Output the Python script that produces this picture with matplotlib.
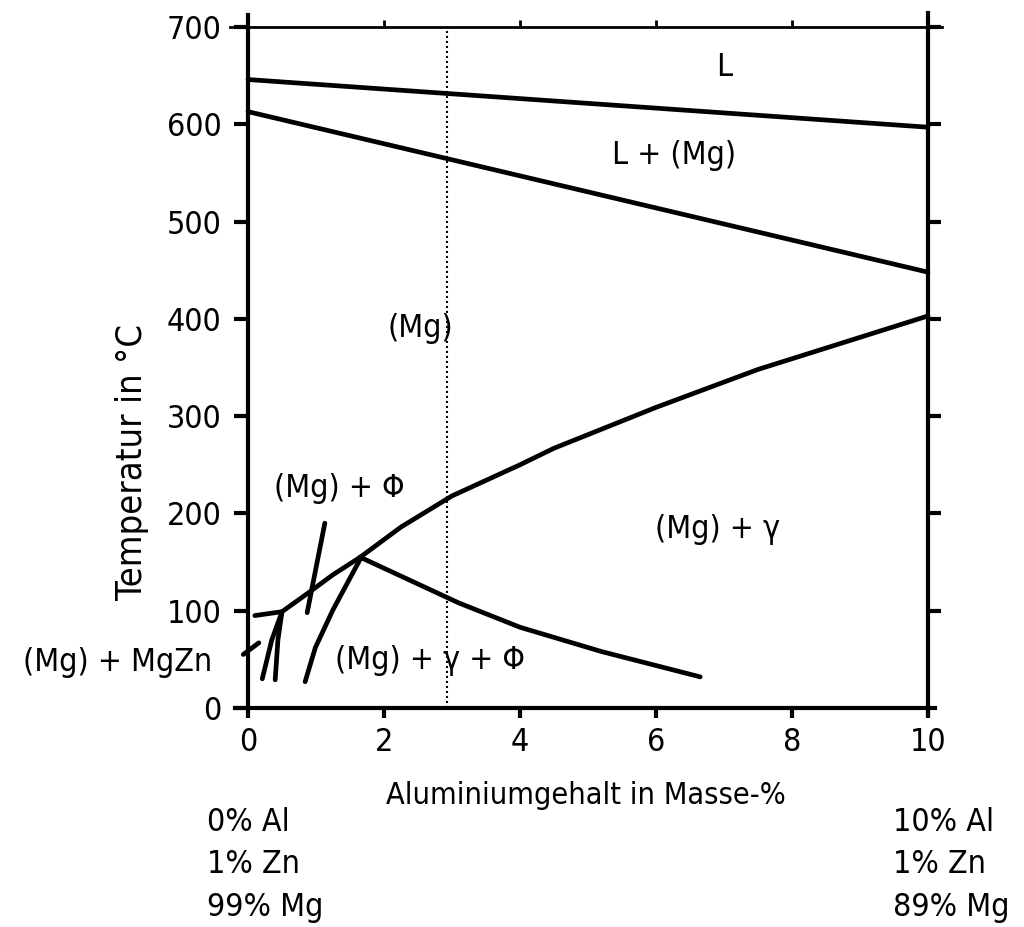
import matplotlib
matplotlib.use('Agg')
import matplotlib.pyplot as plt

plt.rcParams['font.family'] = ['DejaVu Sans']
plt.rcParams['font.stretch'] = 'condensed'

# phase boundaries (Al mass-%, temperature in degC)
liquidus_x = [0, 10]
liquidus_t = [646, 597]
solidus_x = [0, 10]
solidus_t = [613, 448]
solvus_x = [1.65, 2.25, 3.0, 4.0, 4.5, 6.0, 7.5, 10]
solvus_t = [155, 186, 218, 250, 267, 309, 348, 403]
low_solvus_x = [0.1, 0.5, 0.9, 1.25, 1.65]
low_solvus_t = [95, 99, 119, 137, 155]
gamma_phi_x = [1.65, 3.1, 4.0, 5.2, 6.65]
gamma_phi_t = [155, 108, 83, 58, 32]
phi_left_x = [1.65, 1.25, 0.99, 0.84]
phi_left_t = [153, 101, 62, 27]
steep_x = [1.13, 0.87]
steep_t = [190, 98]
branch_a_x = [0.5, 0.35, 0.21]
branch_a_t = [99, 70, 30]
branch_b_x = [0.5, 0.44, 0.40]
branch_b_t = [99, 70, 29]
mgzn_x = [-0.07, 0.16]
mgzn_t = [55, 67]
alloy_x = 2.93

labels = ['L', 'L + (Mg)', '(Mg)', '(Mg) + Φ', '(Mg) + γ', '(Mg) + γ + Φ', '(Mg) + MgZn']
label_x = [7.0, 6.26, 2.53, 1.35, 6.9, 2.68, -1.91]
label_t = [658, 568, 390, 226, 183, 49, 47]

fig = plt.figure(figsize=(10.24, 9.27), dpi=100)
ax = fig.add_axes([248 / 1024, 1 - 708 / 927, 680 / 1024, 681 / 927])
ax.set_xlim(0, 10)
ax.set_ylim(0, 700)

lw = 3.4
for xs, ts in [(liquidus_x, liquidus_t), (solidus_x, solidus_t), (solvus_x, solvus_t),
               (low_solvus_x, low_solvus_t), (gamma_phi_x, gamma_phi_t),
               (phi_left_x, phi_left_t), (steep_x, steep_t), (branch_a_x, branch_a_t),
               (branch_b_x, branch_b_t), (mgzn_x, mgzn_t)]:
    ax.plot(xs, ts, color='black', lw=lw, solid_capstyle='round', clip_on=False)

ax.plot([alloy_x, alloy_x], [0, 700], color='black', lw=1.5, ls=(0, (1, 1.4)))

# hand drawn looking frame
for s in ax.spines.values():
    s.set_visible(False)
ax.plot([-0.19, 10.1], [0, 0], color='black', lw=3, clip_on=False)
ax.plot([-0.26, 10.2], [700, 700], color='black', lw=2, clip_on=False)
ax.plot([0, 0], [0, 712], color='black', lw=3, clip_on=False)
ax.plot([10, 10], [-6, 714], color='black', lw=3, clip_on=False)

fs = 23
ax.set_xticks(range(0, 11, 2))
ax.set_yticks(range(0, 701, 100))
ax.tick_params(axis='x', direction='out', length=7, width=3, labelsize=fs, pad=7)
ax.tick_params(axis='y', direction='out', length=10, width=3, labelsize=fs, pad=9)

top = ax.secondary_xaxis('top')
top.set_xticks(range(0, 11, 2))
top.tick_params(direction='out', length=5, width=2, labeltop=False)
right = ax.secondary_yaxis('right')
right.set_yticks(range(100, 701, 100))
right.tick_params(direction='out', length=9, width=3, labelright=False)
for s in list(top.spines.values()) + list(right.spines.values()):
    s.set_visible(False)

fig.text(586 / 1024, 1 - 795 / 927, 'Aluminiumgehalt in Masse-%', fontsize=22,
         ha='center', va='center')
fig.text(132 / 1024, 1 - 462 / 927, 'Temperatur in °C', fontsize=26,
         ha='center', va='center', rotation=90)

for text, x, t in zip(labels, label_x, label_t):
    ax.text(x, t, text, fontsize=fs, ha='center', va='center', clip_on=False)

fig.text(207 / 1024, 1 - 807 / 927, '0% Al\n1% Zn\n99% Mg', fontsize=fs,
         ha='left', va='top', linespacing=1.47)
fig.text(893 / 1024, 1 - 807 / 927, '10% Al\n1% Zn\n89% Mg', fontsize=fs,
         ha='left', va='top', linespacing=1.47)

fig.savefig('out.png', dpi=100)
